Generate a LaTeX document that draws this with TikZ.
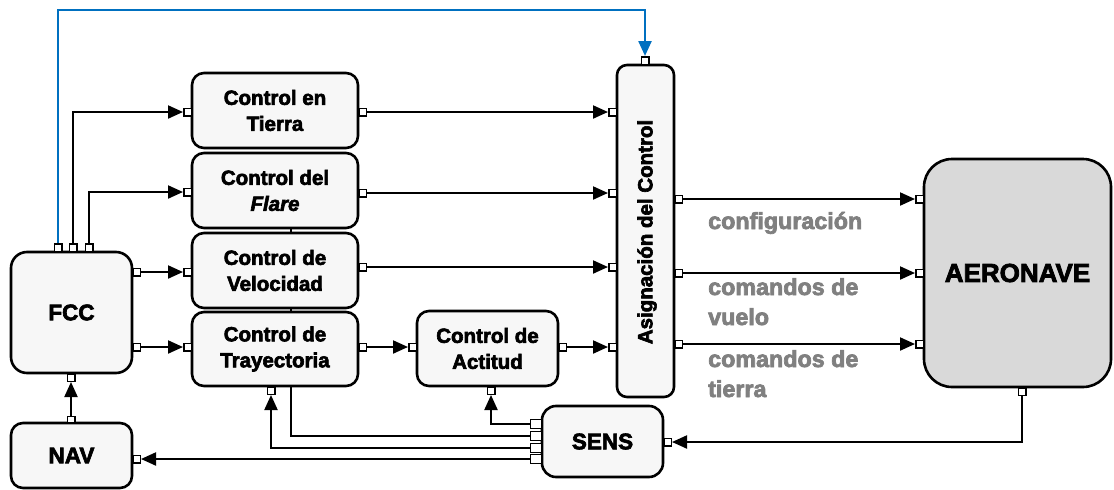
\documentclass[tikz,border=0pt]{standalone}
\usepackage{fontspec}
\setmainfont{Liberation Sans}[BoldFeatures={FakeBold=3},BoldItalicFeatures={FakeBold=3}]
\usetikzlibrary{arrows.meta,backgrounds}
\definecolor{boxfill}{HTML}{F7F7F7}
\definecolor{aerofill}{HTML}{D9D9D9}
\definecolor{labgray}{HTML}{808080}
\definecolor{linkblue}{HTML}{0070C0}
\begin{document}
\begin{tikzpicture}[x=1pt,y=-1pt,
  box/.style={draw, line width=2.6pt, fill=boxfill, rounded corners=12pt, align=center,
    font=\bfseries\fontsize{20.5}{26}\selectfont, inner sep=0pt},
  bigbox/.style={box, font=\bfseries\fontsize{22.5}{26}\selectfont},
  port/.style={draw, fill=white, line width=1.5pt, minimum width=7.5pt, minimum height=7.5pt, inner sep=0pt},
  sport/.style={port, minimum width=11pt, minimum height=9pt},
  conn/.style={line width=2.1pt, -{Triangle[length=15pt,width=13pt]}},
  wire/.style={line width=2.1pt},
  lbl/.style={text=labgray, font=\bfseries\fontsize{23.3}{29}\selectfont, inner sep=0pt, anchor=base west}]

\begin{pgfonlayer}{background}
  \path[use as bounding box, fill=white] (0,0) rectangle (1114,490);
\end{pgfonlayer}

% boxes
\node[bigbox, rounded corners=16pt, minimum width=121pt, minimum height=121pt] (fcc) at (71.5,312.5) {FCC};
\node[bigbox, minimum width=121pt, minimum height=65pt] (nav) at (71.5,455.5) {NAV};
\node[box, minimum width=166pt, minimum height=75pt] (tierra) at (275,110.5) {Control en\\Tierra};
\node[box, minimum width=166pt, minimum height=75pt] (flare) at (275,190.5) {Control del\\\textit{Flare}};
\node[box, minimum width=166pt, minimum height=75pt] (vel) at (275,270.5) {Control de\\Velocidad};
\node[box, minimum width=166pt, minimum height=74pt] (tray) at (275,349) {Control de\\Trayectoria};
\node[box, minimum width=141pt, minimum height=75pt] (act) at (487.5,348.5) {Control de\\Actitud};
\node[box, rounded corners=10pt, minimum width=57pt, minimum height=332pt] (asig) at (645.5,231) {};
\node[rotate=90, font=\bfseries\fontsize{20.5}{26}\selectfont, inner sep=0pt] (asigt) at (647,232) {Asignación del Control};
\node[bigbox, fill=aerofill, rounded corners=28pt, minimum width=187pt, minimum height=228pt,
  font=\bfseries\fontsize{26}{30}\selectfont] (aero) at (1017.5,273) {AERONAVE};
\node[bigbox, rounded corners=14pt, minimum width=121pt, minimum height=71pt] (sens) at (602.5,441.5) {SENS};

% ports
\node[port, anchor=south] (fcct1) at (58,252) {};
\node[port, anchor=south] (fcct2) at (73,252) {};
\node[port, anchor=south] (fcct3) at (89,252) {};
\node[port, anchor=west] (fccr1) at (132,272) {};
\node[port, anchor=west] (fccr2) at (132,347) {};
\node[port, anchor=north] (fccb) at (71,373) {};
\node[port, anchor=south, minimum height=6pt] (navt) at (71,423) {};
\node[port, anchor=west] (navr) at (132,459) {};
\node[port, anchor=east] (tin) at (192,112) {};
\node[port, anchor=west] (tout) at (358,112) {};
\node[port, anchor=east] (fin) at (192,192) {};
\node[port, anchor=west] (fout) at (358,193) {};
\node[port, anchor=east] (vin) at (192,272) {};
\node[port, anchor=west] (vout) at (358,267) {};
\node[port, anchor=east] (trin) at (192,347) {};
\node[port, anchor=west] (trout) at (358,347) {};
\node[port, anchor=north] (trb) at (271,386) {};
\node[port, anchor=east] (ain) at (417,347) {};
\node[port, anchor=west] (aout) at (558,347) {};
\node[port, anchor=north] (ab) at (491,386) {};
\node[port, anchor=east] (as1) at (617,112) {};
\node[port, anchor=east] (as2) at (617,193) {};
\node[port, anchor=east] (as3) at (617,267) {};
\node[port, anchor=east] (as4) at (617,347) {};
\node[port, anchor=west] (ao1) at (674,199) {};
\node[port, anchor=west] (ao2) at (674,273) {};
\node[port, anchor=west] (ao3) at (674,344) {};
\node[port, anchor=south] (astop) at (645,65) {};
\node[port, anchor=east] (ae1) at (924,199) {};
\node[port, anchor=east] (ae2) at (924,273) {};
\node[port, anchor=east] (ae3) at (924,344) {};
\node[port, anchor=north] (aeb) at (1022,387) {};
\node[sport, anchor=east] (s1) at (542,424) {};
\node[sport, anchor=east] (s2) at (542,436) {};
\node[sport, anchor=east] (s3) at (542,448) {};
\node[sport, anchor=east] (s4) at (542,459) {};
\node[port, anchor=west] (sr) at (663,442) {};

\coordinate (bc) at (300,10);
\coordinate (flb) at (291,228);

% connectors
\draw[conn, color=linkblue, line width=2.4pt] (fcct1.north) |- (bc) -| (astop.north);
\draw[conn] (fcct2.north) |- (tin.west);
\draw[conn] (fcct3.north) |- (fin.west);
\draw[conn] (fccr1.east) -- (vin.west);
\draw[conn] (fccr2.east) -- (trin.west);
\draw[conn] (navt.north) -- (fccb.south);
\draw[conn] (tout.east) -- (as1.west);
\draw[conn] (fout.east) -- (as2.west);
\draw[conn] (vout.east) -- (as3.west);
\draw[conn] (trout.east) -- (ain.west);
\draw[conn] (aout.east) -- (as4.west);
\draw[conn] (ao1.east) -- (ae1.west);
\draw[conn] (ao2.east) -- (ae2.west);
\draw[conn] (ao3.east) -- (ae3.west);
\draw[conn] (aeb.south) |- (sr.east);
\draw[conn] (s1.west) -| (ab.south);
\begin{pgfonlayer}{background}
  \draw[wire] (s2.west) -| (flb);
\end{pgfonlayer}
\draw[conn] (s3.west) -| (trb.south);
\draw[conn] (s4.west) -- (navr.east);

% labels
\node[lbl] (l1) at (708,229) {configuración};
\node[lbl] (l2) at (708,295) {comandos de};
\node[lbl] (l3) at (708,325) {vuelo};
\node[lbl] (l4) at (708,367) {comandos de};
\node[lbl] (l5) at (708,397) {tierra};
\end{tikzpicture}
\end{document}
